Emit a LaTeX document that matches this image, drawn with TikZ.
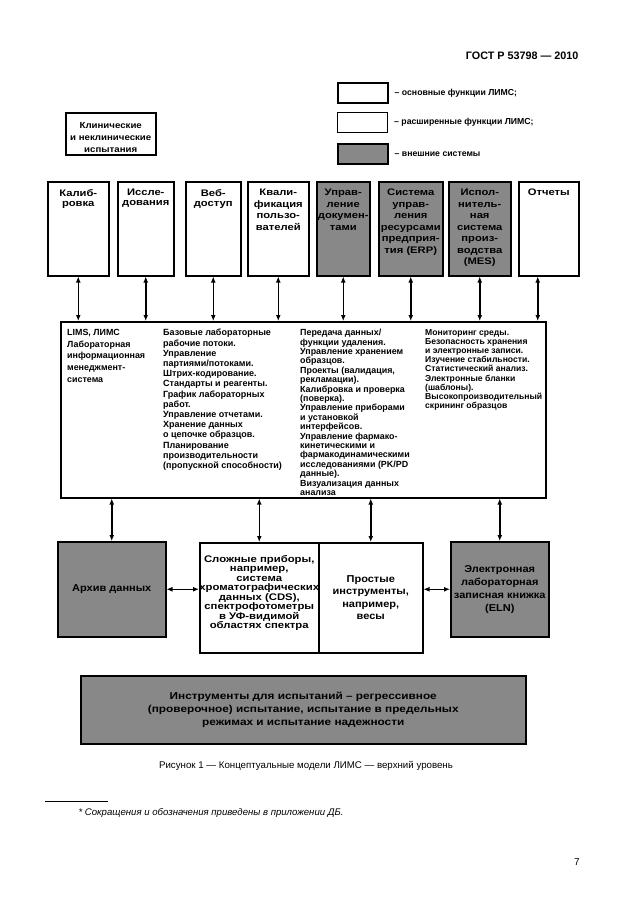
\documentclass[tikz,border=0pt]{standalone}
\usepackage{fontspec}
\setmainfont{Liberation Sans}
\newfontfamily\widesans[FakeStretch=1.18]{Liberation Sans}
\newfontfamily\midsans[FakeStretch=1.1]{Liberation Sans}
\usetikzlibrary{arrows.meta,positioning}

\definecolor{extgray}{RGB}{136,136,136}

\begin{document}
\begin{tikzpicture}[x=1pt,y=-1pt,>=Latex,
 box/.style={draw,line width=1.5pt,fill=white,anchor=north west,inner sep=0pt},
 ext/.style={box,fill=extgray},
 dbl/.style={{Latex[length=6pt,width=5pt]}-{Latex[length=6pt,width=5pt]},line width=1.5pt},
 hd/.style={font=\widesans\bfseries\fontsize{9.5}{11.5}\selectfont,align=center,anchor=north,inner sep=0pt,yshift=-8pt},
 hdtwo/.style={hd,font=\widesans\bfseries\fontsize{9.5}{10}\selectfont},
 col/.style={font=\bfseries\fontsize{8.9}{9.4}\selectfont,align=left,anchor=north west,inner sep=0pt},
 lgt/.style={font=\bfseries\fontsize{8.7}{10}\selectfont,inner sep=0pt},
 low/.style={font=\midsans\bfseries\fontsize{10}{12}\selectfont,align=center}]
\useasboundingbox (0,0) rectangle (630,913);

% page header
\node[font=\bfseries\fontsize{10.8}{12}\selectfont,anchor=east] (gost) at (582,56) {ГОСТ Р 53798 — 2010};

% legend
\node[box,minimum width=50pt,minimum height=20pt] (lg1) at (337,82) {};
\node[box,line width=1pt,minimum width=50pt,minimum height=20pt] (lg2) at (337,112) {};
\node[ext,minimum width=50pt,minimum height=20pt] (lg3) at (337,143) {};
\node[lgt,right=6pt of lg1] (lt1) {– основные функции ЛИМС;};
\node[lgt,right=6pt of lg2] (lt2) {– расширенные функции ЛИМС;};
\node[lgt,right=6pt of lg3] (lt3) {– внешние системы};

\node[box,minimum width=90pt,minimum height=42pt,
 label={[align=center,yshift=-4pt,font=\midsans\bfseries\fontsize{8.8}{12}\selectfont]center:{Клинические\\и неклинические\\испытания}}] (clin) at (65,112) {};

% top row
\node[box,minimum width=61pt,minimum height=94pt,label={[hdtwo]north:{Калиб-\\ровка}}] (r1) at (47,181) {};
\node[box,minimum width=56pt,minimum height=94pt,label={[hdtwo]north:{Иссле-\\дования}}] (r2) at (117,181) {};
\node[box,minimum width=55pt,minimum height=94pt,label={[hdtwo]north:{Веб-\\доступ}}] (r3) at (185,181) {};
\node[box,minimum width=61pt,minimum height=94pt,label={[hd]north:{Квали-\\фикация\\пользо-\\вателей}}] (r4) at (247,181) {};
\node[ext,minimum width=53pt,minimum height=94pt,label={[hd]north:{Управ-\\ление\\докумен-\\тами}}] (r5) at (316,181) {};
\node[ext,minimum width=64pt,minimum height=94pt,label={[hd]north:{Система\\управ-\\ления\\ресурсами\\предприя-\\тия (ERP)}}] (r6) at (378,181) {};
\node[ext,minimum width=62pt,minimum height=94pt,label={[hd]north:{Испол-\\нитель-\\ная\\система\\произ-\\водства\\(MES)}}] (r7) at (448,181) {};
\node[box,minimum width=60pt,minimum height=94pt,label={[hd]north:{Отчеты}}] (r8) at (518,181) {};

% LIMS block
\node[box,minimum width=485pt,minimum height=176pt] (lims) at (60,321) {};
\node[col,font=\bfseries\fontsize{8.9}{11.7}\selectfont] (c1) at (67,329) {LIMS, ЛИМС\\Лабораторная\\информационная\\менеджмент-\\система};
\node[col,font=\bfseries\fontsize{9}{10.2}\selectfont] (c2) at (163,329) {Базовые лабораторные\\рабочие потоки.\\Управление\\партиями/потоками.\\Штрих-кодирование.\\Стандарты и реагенты.\\График лабораторных\\работ.\\Управление отчетами.\\Хранение данных\\о цепочке образцов.\\Планирование\\производительности\\(пропускной способности)};
\node[col] (c3) at (300,329) {Передача данных/\\функции удаления.\\Управление хранением\\образцов.\\Проекты (валидация,\\рекламации).\\Калибровка и проверка\\(поверка).\\Управление приборами\\и установкой\\интерфейсов.\\Управление фармако-\\кинетическими и\\фармакодинамическими\\исследованиями (PK/PD\\данные).\\Визуализация данных\\анализа};
\node[col,font=\bfseries\fontsize{8.6}{9.2}\selectfont] (c4) at (425,329) {Мониторинг среды.\\Безопасность хранения\\и электронные записи.\\Изучение стабильности.\\Статистический анализ.\\Электронные бланки\\(шаблоны).\\Высокопроизводительный\\скрининг образцов};

\foreach \b in {r1,r2,r3,r4,r5,r6,r7}
  \draw[dbl] (\b.south) -- (\b.south |- lims.north);
\draw[dbl] ([xshift=-11pt]r8.south) -- ([xshift=-11pt]r8.south |- lims.north);

% lower row
\node[ext,minimum width=108pt,minimum height=95pt,low] (arch) at (57,541) {Архив данных};
\node[box,minimum width=119pt,minimum height=110pt,
 label={[align=center,yshift=5pt,font=\widesans\bfseries\fontsize{9.6}{9.5}\selectfont]center:{Сложные приборы,\\например,\\система\\хроматографических\\данных (CDS),\\спектрофотометры\\в УФ-видимой\\областях спектра}}] (cplx) at (199,542) {};
\node[box,minimum width=104pt,minimum height=110pt,low,font=\midsans\bfseries\fontsize{10}{12.3}\selectfont] (simp) at (318,542) {Простые\\инструменты,\\например,\\весы};
\node[ext,minimum width=98pt,minimum height=95pt,low,font=\midsans\bfseries\fontsize{10}{13}\selectfont] (eln) at (450,541) {Электронная\\лабораторная\\записная книжка\\(ELN)};

\foreach \b in {arch,cplx,simp,eln}
  \draw[dbl] (\b.north |- lims.south) -- (\b.north);
\draw[dbl] (arch.east) -- (arch.east -| cplx.west);
\draw[dbl] (eln.west -| simp.east) -- (eln.west);

\node[ext,minimum width=445pt,minimum height=68pt,align=center,
 font=\widesans\bfseries\fontsize{10}{13}\selectfont] (tests) at (80,675) {Инструменты для испытаний – регрессивное\\(проверочное) испытание, испытание в предельных\\режимах и испытание надежности};

% caption and footnote
\node[font=\fontsize{9.7}{11}\selectfont] (cap) at (306,766) {Рисунок 1 — Концептуальные модели ЛИМС — верхний уровень};
\draw[line width=0.6pt] (45,801) -- (108,801);
\node[font=\itshape\fontsize{9.6}{11}\selectfont,anchor=west] (fn) at (75,813) {* Сокращения и обозначения приведены в приложении ДБ.};
\node[font=\fontsize{10}{12}\selectfont] (pg) at (577,862) {7};
\end{tikzpicture}
\end{document}
